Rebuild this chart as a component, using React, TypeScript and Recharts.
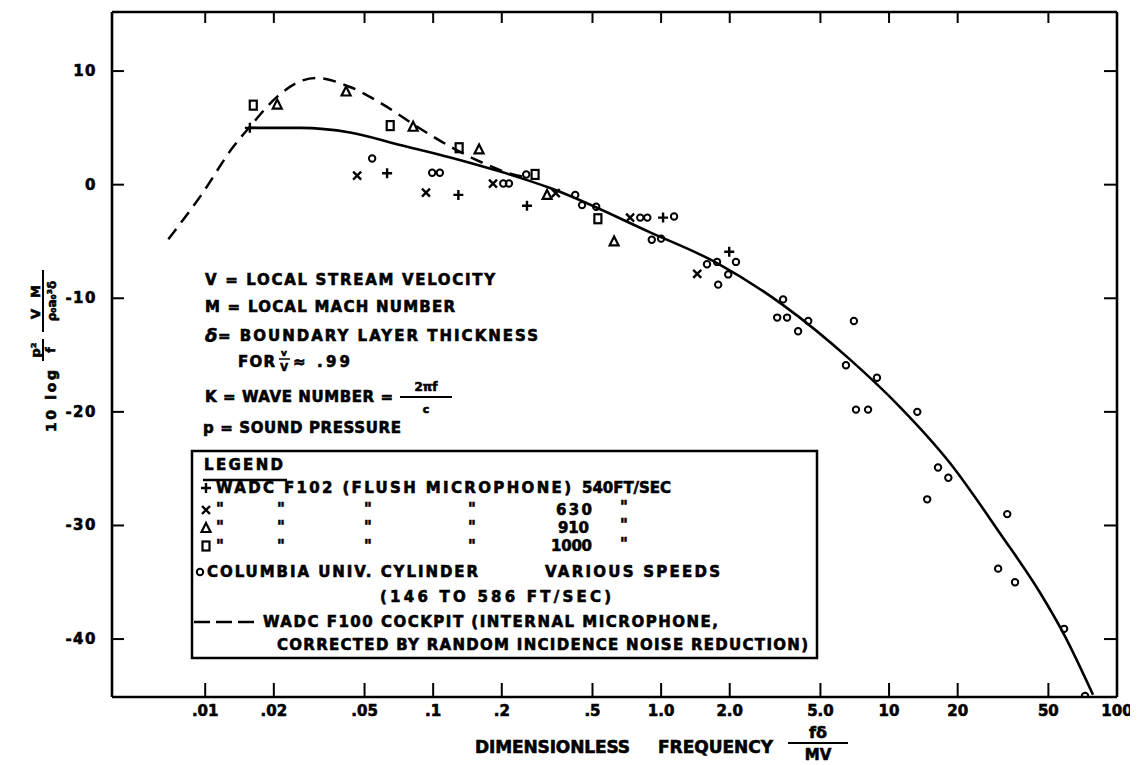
import { ComposedChart, Line, Scatter, XAxis, YAxis } from 'recharts';

// axis ranges (log x)
const X_MIN = 0.0039;
const X_MAX = 100;
const Y_MIN = -45.1;
const Y_MAX = 15.2;

const xTicks = [0.01, 0.02, 0.05, 0.1, 0.2, 0.5, 1, 2, 5, 10, 20, 50, 100];
const xTickLabels = ['.01', '.02', '.05', '.1', '.2', '.5', '1.0', '2.0', '5.0', '10', '20', '50', '100'];
const yTicks = [10, 0, -10, -20, -30, -40];
const yTickLabels = ['10', '0', '-10', '-20', '-30', '-40'];

// faired curve through the data
const meanCurve = [
  { x: 0.0157, y: 5.0 }, { x: 0.0261, y: 5.0 }, { x: 0.0432, y: 4.6 }, { x: 0.0716, y: 3.5 },
  { x: 0.119, y: 2.4 }, { x: 0.197, y: 1.15 }, { x: 0.326, y: -0.3 }, { x: 0.895, y: -4.2 },
  { x: 1.76, y: -6.9 }, { x: 3.43, y: -10.6 }, { x: 6.75, y: -15.4 }, { x: 11.2, y: -19.6 },
  { x: 18.5, y: -24.5 }, { x: 30.7, y: -30.7 }, { x: 45.9, y: -35.9 }, { x: 58.6, y: -39.6 },
  { x: 78.5, y: -44.9 },
];

// WADC F100 cockpit (dashed)
const cockpitCurve = [
  { x: 0.00689, y: -4.8 }, { x: 0.0095, y: -1.05 }, { x: 0.0133, y: 3.35 }, { x: 0.0157, y: 5.1 },
  { x: 0.0207, y: 7.75 }, { x: 0.0261, y: 9.1 }, { x: 0.0304, y: 9.4 }, { x: 0.0432, y: 8.6 },
  { x: 0.0604, y: 7.05 }, { x: 0.0851, y: 5.1 }, { x: 0.119, y: 3.35 }, { x: 0.166, y: 1.9 },
  { x: 0.224, y: 0.9 }, { x: 0.266, y: 0.6 },
];

const f102_540 = [
  { x: 0.0157, y: 5.0 }, { x: 0.0628, y: 1.0 }, { x: 0.129, y: -0.9 }, { x: 0.258, y: -1.85 },
  { x: 1.02, y: -2.9 }, { x: 1.99, y: -5.9 },
];
const f102_630 = [
  { x: 0.0464, y: 0.8 }, { x: 0.093, y: -0.7 }, { x: 0.183, y: 0.1 }, { x: 0.345, y: -0.75 },
  { x: 0.731, y: -2.9 }, { x: 1.44, y: -7.85 },
];
const f102_910 = [
  { x: 0.0207, y: 7.05 }, { x: 0.0415, y: 8.2 }, { x: 0.0817, y: 5.1 }, { x: 0.159, y: 3.1 },
  { x: 0.316, y: -0.9 }, { x: 0.622, y: -5.0 },
];
const f102_1000 = [
  { x: 0.01625, y: 7.0 }, { x: 0.0648, y: 5.2 }, { x: 0.13, y: 3.25 }, { x: 0.28, y: 0.9 },
  { x: 0.528, y: -3.0 },
];
const columbia = [
  { x: 0.054, y: 2.3 }, { x: 0.099, y: 1.05 }, { x: 0.107, y: 1.05 }, { x: 0.203, y: 0.1 },
  { x: 0.215, y: 0.1 }, { x: 0.256, y: 0.9 }, { x: 0.42, y: -0.9 }, { x: 0.45, y: -1.8 },
  { x: 0.519, y: -1.95 }, { x: 0.81, y: -2.9 }, { x: 0.87, y: -2.9 }, { x: 1.14, y: -2.8 },
  { x: 0.91, y: -4.85 }, { x: 1.0, y: -4.75 }, { x: 1.59, y: -7.0 }, { x: 1.76, y: -6.8 },
  { x: 2.13, y: -6.8 }, { x: 1.97, y: -7.9 }, { x: 1.78, y: -8.8 }, { x: 3.43, y: -10.1 },
  { x: 3.23, y: -11.7 }, { x: 3.57, y: -11.7 }, { x: 3.99, y: -12.9 }, { x: 4.42, y: -12.0 },
  { x: 7.01, y: -12.0 }, { x: 6.47, y: -15.9 }, { x: 8.85, y: -17.0 }, { x: 7.16, y: -19.8 },
  { x: 8.09, y: -19.8 }, { x: 13.3, y: -20.0 }, { x: 16.4, y: -24.9 }, { x: 18.2, y: -25.8 },
  { x: 14.7, y: -27.7 }, { x: 33.0, y: -29.0 }, { x: 30.1, y: -33.8 }, { x: 35.7, y: -35.0 },
  { x: 58.6, y: -39.1 }, { x: 72.4, y: -45.0 },
];

const INK = '#000';
const font = {
  fontFamily: '"DejaVu Sans", sans-serif',
  fontWeight: 700,
  fontSize: 15,
  fill: INK,
  stroke: INK,
  strokeWidth: 0.6,
};

// marker glyphs
const PlusMark = ({ cx, cy }: any) => (
  <path d={`M${cx - 5},${cy}h10M${cx},${cy - 5}v10`} stroke={INK} strokeWidth={2.4} fill="none" />
);
const CrossMark = ({ cx, cy }: any) => (
  <path d={`M${cx - 4},${cy - 4}l8,8M${cx + 4},${cy - 4}l-8,8`} stroke={INK} strokeWidth={2.4} fill="none" />
);
const TriMark = ({ cx, cy }: any) => (
  <polygon points={`${cx},${cy - 5} ${cx + 4.5},${cy + 4} ${cx - 4.5},${cy + 4}`} stroke={INK} strokeWidth={2.2} fill="none" />
);
const SquareMark = ({ cx, cy }: any) => (
  <rect x={cx - 3.5} y={cy - 4.5} width={7} height={9} stroke={INK} strokeWidth={2.2} fill="none" />
);
const CircleMark = ({ cx, cy }: any) => (
  <circle cx={cx} cy={cy} r={3.2} stroke={INK} strokeWidth={2} fill="none" />
);

const BottomTick = (props: any) => {
  const { x, y, payload } = props;
  const i = xTicks.indexOf(payload.value);
  return (
    <g>
      <line x1={x} x2={x} y1={y} y2={y - 14} stroke={INK} strokeWidth={2} />
      <text x={x} y={y + 19} textAnchor="middle" {...font}>{xTickLabels[i]}</text>
    </g>
  );
};
const TopTick = (props: any) => {
  const { x, y } = props;
  return <line x1={x} x2={x} y1={y} y2={y + 11} stroke={INK} strokeWidth={2} />;
};
const LeftTick = (props: any) => {
  const { x, y, payload } = props;
  const i = yTicks.indexOf(payload.value);
  return (
    <g>
      <line x1={x} x2={x + 12} y1={y} y2={y} stroke={INK} strokeWidth={2} />
      <text x={x - 15} y={y + 5} textAnchor="end" letterSpacing={1.5} {...font}>{yTickLabels[i]}</text>
    </g>
  );
};
const RightTick = (props: any) => {
  const { x, y } = props;
  return <line x1={x} x2={x - 13} y1={y} y2={y} stroke={INK} strokeWidth={2} />;
};

const T = ({ x, y, w, children, size = 15 }: any) => (
  <text x={x} y={y} textLength={w} lengthAdjust="spacing" {...font} fontSize={size}>{children}</text>
);

const Ditto = ({ x, y }: any) => <text x={x} y={y} {...font}>"</text>;

const Notes = () => (
  <g>
    <T x={205} y={285} w={290}>V = LOCAL STREAM VELOCITY</T>
    <T x={205} y={312} w={250}>M = LOCAL MACH NUMBER</T>
    <text x={205} y={342} {...font} fontSize={18} fontStyle="italic">δ</text>
    <T x={218} y={341} w={320}>= BOUNDARY LAYER THICKNESS</T>
    <T x={238} y={367} w={37}>FOR</T>
    <text x={284} y={356} textAnchor="middle" {...font} fontSize={9}>v</text>
    <line x1={279} x2={290} y1={359} y2={359} stroke={INK} strokeWidth={1.5} />
    <text x={284} y={371} textAnchor="middle" {...font} fontSize={10}>V</text>
    <T x={293} y={367} w={57}>≈ .99</T>
    <T x={205} y={402} w={188}>K = WAVE NUMBER =</T>
    <text x={426} y={391} textAnchor="middle" {...font} fontSize={12}>2πf</text>
    <line x1={400} x2={452} y1={397} y2={397} stroke={INK} strokeWidth={2} />
    <text x={426} y={413} textAnchor="middle" {...font} fontSize={11}>c</text>
    <T x={203} y={433} w={198}>p = SOUND PRESSURE</T>
  </g>
);

const LegendBox = () => (
  <g>
    <rect x={192} y={451} width={625} height={207} fill="#fff" stroke={INK} strokeWidth={2.5} />
    <T x={204} y={470} w={79}>LEGEND</T>
    <line x1={203} x2={287} y1={480} y2={480} stroke={INK} strokeWidth={2.5} />

    <PlusMark cx={206} cy={488} />
    <T x={216} y={493} w={355}>WADC  F102  (FLUSH  MICROPHONE)</T>
    <T x={582} y={493} w={89}>540FT/SEC</T>

    <CrossMark cx={206} cy={510} />
    <Ditto x={216} y={514} /><Ditto x={277} y={514} /><Ditto x={364} y={514} /><Ditto x={468} y={514} />
    <T x={556} y={515} w={36}>630</T>
    <Ditto x={620} y={512} />

    <TriMark cx={206} cy={528} />
    <Ditto x={216} y={532} /><Ditto x={277} y={532} /><Ditto x={364} y={532} /><Ditto x={468} y={532} />
    <T x={558} y={533} w={31}>910</T>
    <Ditto x={620} y={530} />

    <SquareMark cx={206} cy={546} />
    <Ditto x={216} y={551} /><Ditto x={277} y={551} /><Ditto x={364} y={551} /><Ditto x={468} y={551} />
    <T x={551} y={551} w={41}>1000</T>
    <Ditto x={620} y={549} />

    <CircleMark cx={200} cy={572} />
    <T x={207} y={577} w={271}>COLUMBIA  UNIV.  CYLINDER</T>
    <T x={545} y={577} w={175}>VARIOUS  SPEEDS</T>
    <T x={380} y={602} w={231}>(146  TO  586  FT/SEC)</T>

    <line x1={194} x2={258} y1={622} y2={622} stroke={INK} strokeWidth={2.5} strokeDasharray="16 6" />
    <T x={263} y={627} w={455}>WADC  F100  COCKPIT  (INTERNAL  MICROPHONE,</T>
    <T x={277} y={650} w={531}>CORRECTED  BY  RANDOM  INCIDENCE  NOISE  REDUCTION)</T>
  </g>
);

const AxisTitles = () => (
  <g>
    <T x={475} y={753} w={155} size={17}>DIMENSIONLESS</T>
    <T x={658} y={753} w={115} size={17}>FREQUENCY</T>
    <text x={818} y={738} textAnchor="middle" {...font} fontSize={16}>fδ</text>
    <line x1={788} x2={848} y1={743} y2={743} stroke={INK} strokeWidth={2.2} />
    <text x={818} y={760} textAnchor="middle" {...font} fontSize={15}>MV</text>

    <g transform="translate(43, 432) rotate(-90)">
      <text x={0} y={13} textLength={62} lengthAdjust="spacing" {...font} fontSize={14}>10 log</text>
      <text x={82} y={-3} textAnchor="middle" {...font} fontSize={13}>p²</text>
      <line x1={71} x2={93} y1={0} y2={0} stroke={INK} strokeWidth={2} />
      <text x={82} y={12} textAnchor="middle" {...font} fontSize={12}>f</text>
      <text x={130} y={-3} textAnchor="middle" textLength={34} lengthAdjust="spacing" {...font} fontSize={13}>V M</text>
      <line x1={100} x2={162} y1={0} y2={0} stroke={INK} strokeWidth={2} />
      <text x={131} y={13} textAnchor="middle" {...font} fontSize={12}>ρ₀a₀³δ</text>
    </g>
  </g>
);

const axisLine = { stroke: INK, strokeWidth: 2.6 };

export default function App() {
  return (
    <div style={{ position: 'relative', width: 1130, height: 757, background: '#fff' }}>
      <ComposedChart width={1130} height={757} margin={{ top: 3, right: 20, bottom: 0, left: 0 }}>
        <XAxis
          xAxisId="b" type="number" dataKey="x" scale="log" domain={[X_MIN, X_MAX]} allowDataOverflow
          ticks={xTicks} interval={0} tick={<BottomTick />} tickLine={false} tickSize={0} tickMargin={0}
          height={68} axisLine={axisLine}
        />
        <XAxis
          xAxisId="t" orientation="top" type="number" dataKey="x" scale="log" domain={[X_MIN, X_MAX]}
          allowDataOverflow ticks={xTicks} interval={0} tick={<TopTick />} tickLine={false} tickSize={0}
          tickMargin={0} height={1} axisLine={axisLine}
        />
        <YAxis
          yAxisId="l" type="number" dataKey="y" domain={[Y_MIN, Y_MAX]} allowDataOverflow ticks={yTicks}
          interval={0} tick={<LeftTick />} tickLine={false} tickSize={0} tickMargin={0} width={104}
          axisLine={axisLine}
        />
        <YAxis
          yAxisId="r" orientation="right" type="number" dataKey="y" domain={[Y_MIN, Y_MAX]} allowDataOverflow
          ticks={yTicks} interval={0} tick={<RightTick />} tickLine={false} tickSize={0} tickMargin={0}
          width={1} axisLine={axisLine}
        />
        {/* invisible series so the frame axes (top / right) are in use */}
        <Line
          xAxisId="t" yAxisId="r" data={meanCurve} dataKey="y" stroke="none" dot={false}
          activeDot={false} isAnimationActive={false}
        />
        <Line
          xAxisId="b" yAxisId="l" data={cockpitCurve} dataKey="y" type="monotone" stroke={INK}
          strokeWidth={2.5} strokeDasharray="13 8" dot={false} activeDot={false} isAnimationActive={false}
        />
        <Line
          xAxisId="b" yAxisId="l" data={meanCurve} dataKey="y" type="monotone" stroke={INK}
          strokeWidth={2.6} dot={false} activeDot={false} isAnimationActive={false}
        />
        <Scatter xAxisId="b" yAxisId="l" data={f102_540} shape={(p: any) => <PlusMark cx={p.cx} cy={p.cy} />} isAnimationActive={false} />
        <Scatter xAxisId="b" yAxisId="l" data={f102_630} shape={(p: any) => <CrossMark cx={p.cx} cy={p.cy} />} isAnimationActive={false} />
        <Scatter xAxisId="b" yAxisId="l" data={f102_910} shape={(p: any) => <TriMark cx={p.cx} cy={p.cy} />} isAnimationActive={false} />
        <Scatter xAxisId="b" yAxisId="l" data={f102_1000} shape={(p: any) => <SquareMark cx={p.cx} cy={p.cy} />} isAnimationActive={false} />
        <Scatter xAxisId="b" yAxisId="l" data={columbia} shape={(p: any) => <CircleMark cx={p.cx} cy={p.cy} />} isAnimationActive={false} />
      </ComposedChart>
      <svg width={1130} height={757} style={{ position: 'absolute', left: 0, top: 0, pointerEvents: 'none' }}>
        <g transform="translate(-8,-8)">
          <Notes />
          <LegendBox />
          <AxisTitles />
        </g>
      </svg>
    </div>
  );
}
